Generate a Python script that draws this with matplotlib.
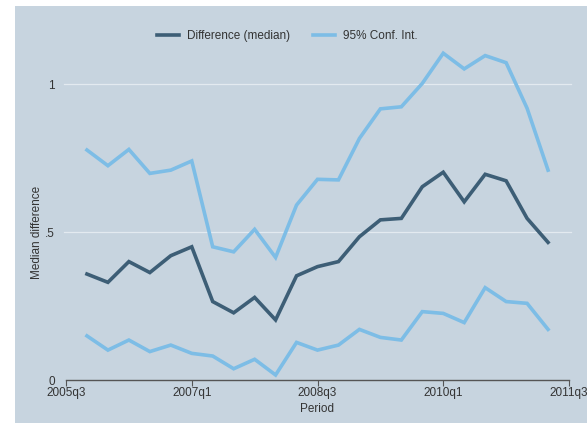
import matplotlib
matplotlib.use("Agg")
import matplotlib.pyplot as plt
from matplotlib.patches import Rectangle

plt.rcParams['font.family'] = ['Liberation Sans', 'DejaVu Sans']

# quarters since 2005q3 (2005q4 .. 2011q2)
quarter_index = list(range(1, 24))
median_diff = [0.359, 0.331, 0.401, 0.364, 0.421, 0.451, 0.266, 0.228, 0.280, 0.204,
               0.353, 0.384, 0.401, 0.485, 0.542, 0.547, 0.654, 0.703, 0.603, 0.696,
               0.674, 0.547, 0.466]
ci_upper = [0.778, 0.725, 0.780, 0.699, 0.710, 0.741, 0.451, 0.434, 0.510, 0.415,
            0.592, 0.679, 0.677, 0.817, 0.917, 0.924, 1.003, 1.105, 1.052, 1.097,
            1.073, 0.919, 0.710]
ci_lower = [0.150, 0.102, 0.136, 0.097, 0.119, 0.091, 0.082, 0.039, 0.071, 0.018,
            0.128, 0.102, 0.119, 0.172, 0.145, 0.136, 0.232, 0.226, 0.195, 0.313,
            0.266, 0.260, 0.172]
xtick_pos = [0, 6, 12, 18, 24]
xtick_labels = ["2005q3", "2007q1", "2008q3", "2010q1", "2011q3"]
ytick_pos = [0, 0.5, 1]
ytick_labels = ["0", ".5", "1"]

W, H = 587, 423
bg = "#C7D4DF"
dark = "#3D5E76"
light = "#7DBDE6"
txt = "#333333"

fig = plt.figure(figsize=(W / 100, H / 100), dpi=100, facecolor="white")
bgax = fig.add_axes([0, 0, 1, 1], zorder=0)
bgax.set_axis_off()
bgax.add_patch(Rectangle((15 / W, 0), 1 - 15 / W, 1 - 6 / H, transform=bgax.transAxes,
                         facecolor=bg, edgecolor="none"))

x0, x1 = 66, 569
ybot, ytop = 380.3, 20
ax = fig.add_axes([x0 / W, (H - ybot) / H, (x1 - x0) / W, (ybot - ytop) / H], zorder=1)
ax.set_facecolor("none")
ax.set_xlim(0, 24)
ax.set_ylim(0, (ybot - ytop) / 296.0)

for g in [0.5, 1]:
    ax.plot([-0.1, 24.1], [g, g], color="#E3EAF0", lw=0.9, zorder=1, clip_on=False)

ax.plot(quarter_index, median_diff, color=dark, lw=2.6, solid_joinstyle="miter", zorder=3,
        label="Difference (median)")
ax.plot(quarter_index, ci_upper, color=light, lw=2.6, solid_joinstyle="miter", zorder=2,
        label="95% Conf. Int.")
ax.plot(quarter_index, ci_lower, color=light, lw=2.6, solid_joinstyle="miter", zorder=2)

for s in ["top", "right", "left"]:
    ax.spines[s].set_visible(False)
ax.spines["bottom"].set_color("#555555")
ax.spines["bottom"].set_linewidth(1.0)

ax.set_xticks(xtick_pos)
ax.set_xticklabels(xtick_labels)
ax.set_yticks(ytick_pos)
ax.set_yticklabels(ytick_labels)
ax.tick_params(axis="x", length=4, width=0.8, color="#555555", labelsize=8.5,
               labelcolor=txt, pad=1)
ax.tick_params(axis="y", length=0, labelsize=8.5, labelcolor=txt, pad=8)

fig.text(317 / W, 1 - 409 / H, "Period", fontsize=8.5, color=txt, ha="center", va="center")
fig.text(37 / W, 1 - 232 / H, "Median difference", fontsize=8.5, color=txt, ha="center",
         va="center", rotation=90)

leg = ax.legend(loc="center left", bbox_to_anchor=(157 / W, 1 - 36 / H),
                bbox_transform=fig.transFigure, ncol=2, frameon=False,
                fontsize=8.5, handlelength=1.86, columnspacing=1.95, handletextpad=0.68,
                borderpad=0, borderaxespad=0)
for t in leg.get_texts():
    t.set_color(txt)

fig.savefig("out.png", dpi=100, facecolor="white")
